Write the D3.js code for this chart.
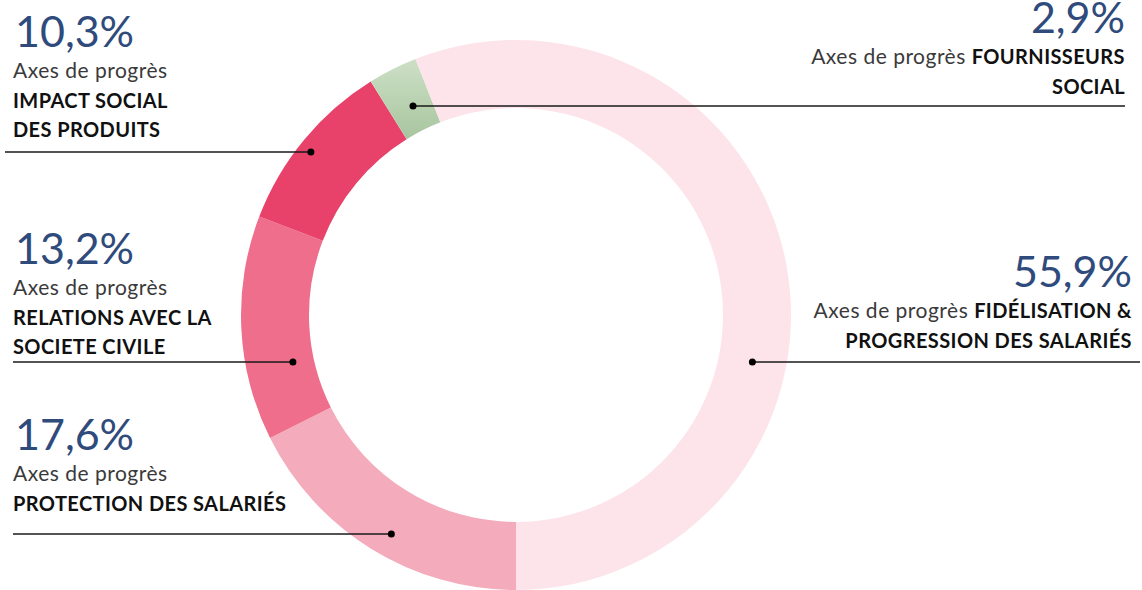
<!doctype html>
<html>
<head>
<meta charset="utf-8">
<script src="https://cdnjs.cloudflare.com/ajax/libs/d3/7.8.5/d3.min.js"></script>
<style>
    body { margin: 0; background: #fff; }
    svg { display: block; }
    text { font-family: Lato, "Open Sans", sans-serif; }
</style>
</head>
<body>
<svg width="1142" height="590"></svg>
<script>
// data, in drawing order (clockwise from 6 o'clock)
var categories = ["PROTECTION DES SALARIÉS", "RELATIONS AVEC LA SOCIETE CIVILE", "IMPACT SOCIAL DES PRODUITS", "FOURNISSEURS SOCIAL", "FIDÉLISATION & PROGRESSION DES SALARIÉS"];
var shares = [17.6, 13.2, 10.3, 2.9, 55.9];
var boldLines = [
    ["PROTECTION DES SALARIÉS"],
    ["RELATIONS AVEC LA", "SOCIETE CIVILE"],
    ["IMPACT SOCIAL", "DES PRODUITS"],
    ["FOURNISSEURS", "SOCIAL"],
    ["FIDÉLISATION &", "PROGRESSION DES SALARIÉS"]
];
var prefix = "Axes de progrès";
var colors = ["#f4abbc", "#ee6e8b", "#e8426b", "url(#green)", "#fce4ea"];

// label layout (number baseline, leader line y, dot distance from centre, line far end)
var layout = [
    {side: "left", x: 13, base: 450, lineY: 534, dotR: 252, far: 13, inline: false},
    {side: "left", x: 13, base: 264, lineY: 362, dotR: 228, far: 13, inline: false},
    {side: "left", x: 13, base: 47, lineY: 152, dotR: 262, far: 5, inline: false},
    {side: "right", x: 1125, base: 33, lineY: 106, dotR: 233, far: 1125, inline: true},
    {side: "right", x: 1132, base: 287, lineY: 362, dotR: 241, far: 1140, inline: true}
];

var svg = d3.select("svg"),
    cx = 516, cy = 315,
    outer = 275, inner = 207;

var defs = svg.append("defs");
var grad = defs.append("linearGradient").attr("id", "green")
    .attr("x1", 0).attr("y1", 0).attr("x2", 0).attr("y2", 1);
grad.append("stop").attr("offset", "0%").attr("stop-color", "#cde0c6");
grad.append("stop").attr("offset", "100%").attr("stop-color", "#a8c59f");

var pie = d3.pie().sort(null).value(function (d) { return d; })
    .startAngle(Math.PI).endAngle(3 * Math.PI);
var arc = d3.arc().innerRadius(inner).outerRadius(outer);
var slices = pie(shares);

var g = svg.append("g").attr("transform", "translate(" + cx + "," + cy + ")");
g.selectAll("path")
    .data(slices)
    .enter().append("path")
    .attr("d", arc)
    .attr("fill", function (d, i) { return colors[i]; });

var fr = d3.formatLocale({decimal: ",", thousands: " ", grouping: [3], currency: ["", "€"]});
var fmt = fr.format(".1f");

var labels = svg.append("g");
shares.forEach(function (v, i) {
    var L = layout[i];
    var anchor = L.side == "left" ? "start" : "end";
    labels.append("text")
        .attr("x", L.side == "left" ? L.x + 2 : L.x).attr("y", L.base)
        .attr("text-anchor", anchor)
        .attr("font-size", 43)
        .attr("fill", "#2f4b7c")
        .text(fmt(v) + "%");

    var y = L.base + 31;
    var lines = boldLines[i];
    if (L.inline) {
        var t = labels.append("text").attr("x", L.x).attr("y", y).attr("text-anchor", anchor);
        t.append("tspan").attr("font-size", 21).attr("letter-spacing", 0.5).attr("fill", "#3a3a3a").text(prefix + " ");
        t.append("tspan").attr("font-size", 20).attr("letter-spacing", 0.4).attr("font-weight", "bold").attr("fill", "#111").text(lines[0]);
        lines = lines.slice(1);
    } else {
        labels.append("text").attr("x", L.x).attr("y", y).attr("text-anchor", anchor)
            .attr("font-size", 21).attr("letter-spacing", 0.5).attr("fill", "#3a3a3a").text(prefix);
    }
    lines.forEach(function (s) {
        y += 29.5;
        labels.append("text").attr("x", L.x).attr("y", y).attr("text-anchor", anchor)
            .attr("font-size", 20).attr("letter-spacing", 0.4).attr("font-weight", "bold").attr("fill", "#111").text(s);
    });

    // leader line + dot, dot on the slice's side of the ring
    var c = arc.centroid(slices[i]);
    var dy = L.lineY - cy;
    var dx = Math.sqrt(L.dotR * L.dotR - dy * dy) * (c[0] < 0 ? -1 : 1);
    var dotX = cx + dx;
    svg.append("line")
        .attr("x1", L.far).attr("x2", dotX)
        .attr("y1", L.lineY).attr("y2", L.lineY)
        .attr("stroke", "#1a1a1a").attr("stroke-width", 1.5);
    svg.append("circle")
        .attr("cx", dotX).attr("cy", L.lineY).attr("r", 3.5)
        .attr("fill", "#000");
});
</script>
</body>
</html>
